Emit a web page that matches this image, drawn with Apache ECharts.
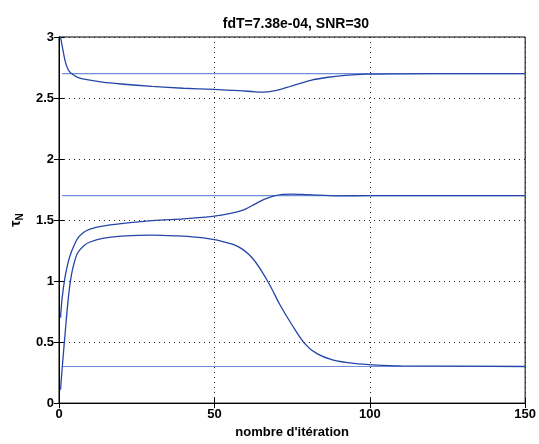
<!DOCTYPE html>
<html><head><meta charset="utf-8">
<script src="https://cdn.jsdelivr.net/npm/echarts@6/dist/echarts.min.js"></script>
<style>html,body{margin:0;padding:0;background:#fff}#c{width:539px;height:444px}</style>
</head><body><div id="c"></div>
<script>
const titleText = "fdT=7.38e-04, SNR=30";
const xName = "nombre d'itération";
const xTicks = [0, 50, 100, 150];
const yTicks = [0, 0.5, 1, 1.5, 2, 2.5, 3];
const refLevels = [2.7, 1.7, 0.3];
const refX = [1, 150];

const curveA = [[0.5,3.0],[1,2.93],[2,2.8],[3,2.73],[4,2.70],[6,2.67],[9,2.65],[14,2.63],[20,2.615],[30,2.595],[40,2.58],[50,2.57],[58,2.56],[63,2.551],[66,2.548],[70,2.562],[75,2.6],[81,2.645],[86,2.668],[92,2.685],[99,2.695],[110,2.698],[130,2.7],[150,2.7]];
const curveB = [[0.5,0.70],[1,0.86],[2,1.04],[3,1.16],[4,1.24],[5,1.30],[6,1.35],[8,1.40],[10,1.425],[14,1.45],[20,1.47],[30,1.495],[40,1.51],[46,1.522],[50,1.533],[54,1.548],[57,1.565],[60,1.59],[63,1.63],[66,1.67],[69,1.697],[72,1.711],[75,1.713],[80,1.708],[90,1.698],[100,1.70],[150,1.70]];
const curveC = [[0.5,0.11],[1,0.28],[2,0.58],[3,0.86],[4,1.05],[5,1.16],[6,1.23],[8,1.29],[10,1.32],[14,1.35],[20,1.368],[30,1.377],[38,1.37],[44,1.36],[49,1.343],[53,1.322],[56,1.3],[59,1.262],[62,1.195],[65,1.09],[68,0.96],[71,0.81],[75,0.64],[79,0.49],[83,0.405],[88,0.355],[95,0.325],[102,0.312],[110,0.305],[150,0.30]];

const font = "'Liberation Sans', Arial, sans-serif";
const curveColor = '#2446a8';
const refColor = '#6f8fd8';

const series = [];
refLevels.forEach(v => {
  series.push({type:'line', data: refX.map(x => [x, v]), symbol:'none', lineStyle:{color:refColor, width:1.2}, z:2, silent:true});
});
[curveA, curveB, curveC].forEach(d => {
  series.push({type:'line', data:d, symbol:'none', smooth:0.3, lineStyle:{color:curveColor, width:1.3}, z:3, silent:true});
});

const chart = echarts.init(document.getElementById('c'), null, {renderer:'canvas'});
chart.setOption({
  animation:false,
  backgroundColor:'#fff',
  title:{text:titleText, left:291, top:12, textAlign:'center', textStyle:{fontFamily:font, fontWeight:'bold', fontSize:14, color:'#000'}},
  grid:{left:59, right:13, top:37, bottom:38, show:true, borderColor:'#000', borderWidth:1},
  xAxis:[{
    type:'value', min:xTicks[0], max:xTicks[xTicks.length-1], interval:50,
    name:xName, nameLocation:'middle', nameGap:22,
    nameTextStyle:{fontFamily:font, fontWeight:'bold', fontSize:13, color:'#000'},
    axisLine:{lineStyle:{color:'#000'}},
    axisTick:{inside:true, length:5, lineStyle:{color:'#000'}},
    axisLabel:{fontFamily:font, fontWeight:'bold', fontSize:13, color:'#000', margin:5},
    splitLine:{show:true, lineStyle:{color:'#222', type:[1,4], width:1}}
  },{
    type:'value', position:'top', min:xTicks[0], max:xTicks[xTicks.length-1], interval:50,
    axisLine:{lineStyle:{color:'#000'}}, axisTick:{inside:true, length:5, lineStyle:{color:'#000'}},
    axisLabel:{show:false}, splitLine:{show:false}
  }],
  yAxis:[{
    type:'value', min:yTicks[0], max:yTicks[yTicks.length-1], interval:0.5,
    name:'{a|τ}{b|N}', nameLocation:'middle', nameGap:31, nameRotate:90,
    nameTextStyle:{fontFamily:font, fontWeight:'bold', fontSize:13, color:'#000',
      rich:{a:{fontFamily:font, fontWeight:'bold', fontSize:14, color:'#000'}, b:{fontFamily:font, fontWeight:'bold', fontSize:10, color:'#000', verticalAlign:'bottom', padding:[7,0,0,0]}}},
    axisLine:{lineStyle:{color:'#000'}},
    axisTick:{inside:true, length:5, lineStyle:{color:'#000'}},
    axisLabel:{fontFamily:font, fontWeight:'bold', fontSize:13, color:'#000', margin:5},
    splitLine:{show:true, lineStyle:{color:'#222', type:[1,4], width:1}}
  },{
    type:'value', position:'right', min:yTicks[0], max:yTicks[yTicks.length-1], interval:0.5,
    axisLine:{lineStyle:{color:'#000'}}, axisTick:{inside:true, length:5, lineStyle:{color:'#000'}},
    axisLabel:{show:false}, splitLine:{show:false}
  }],
  series: series
});
</script></body></html>
